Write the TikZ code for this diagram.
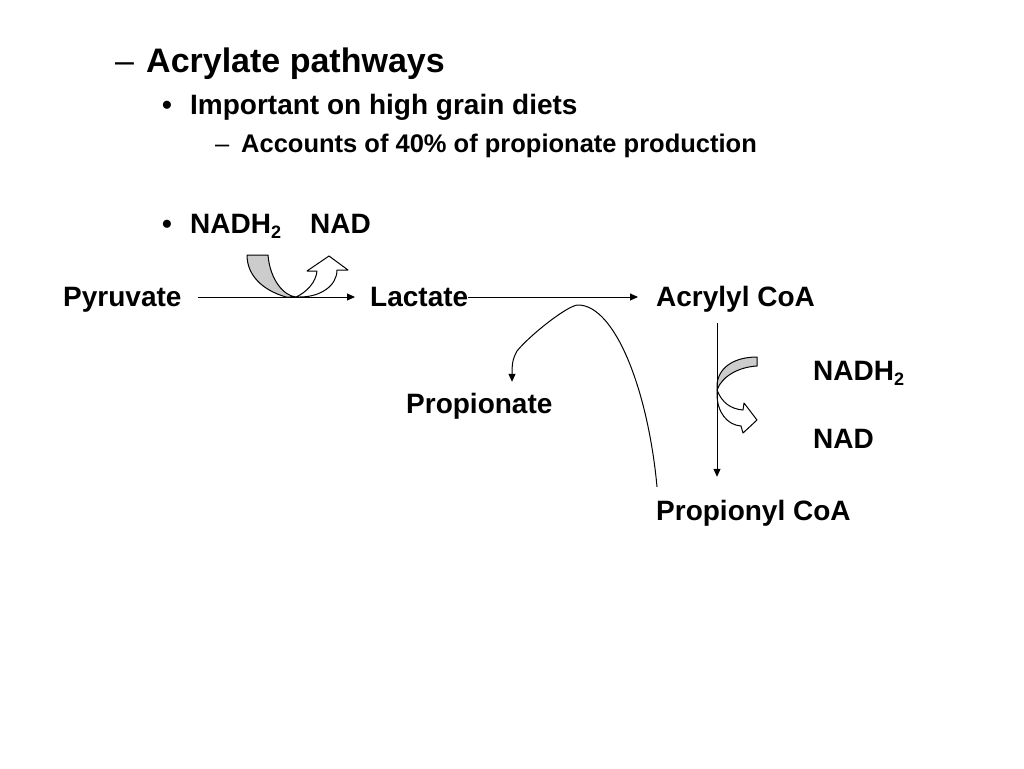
\documentclass[tikz,border=0pt]{standalone}
\usepackage{fontspec}
\setmainfont{Liberation Sans}
\usetikzlibrary{arrows.meta}
\newcommand{\subtwo}{\raisebox{-5pt}{\fontsize{18}{20}\selectfont 2}}
\tikzset{
  lbl/.style={font=\bfseries\fontsize{28}{32}\selectfont, inner sep=0pt, anchor=base west},
  mol/.style={lbl, text height=20pt, text depth=2pt},
  arr/.style={line width=1pt, -{Triangle[length=8pt,width=7pt]}},
  band/.style={draw, line width=1pt, line join=round},
}
\begin{document}
\begin{tikzpicture}[x=1pt, y=-1pt]
  \useasboundingbox[fill=white] (0,0) rectangle (1024,768);
  % list text
  \node (d1) [lbl, font=\mdseries\fontsize{34}{38}\selectfont] at (115,72) {--};
  \node (t1) [lbl, font=\bfseries\fontsize{34}{38}\selectfont] at (146,72) {Acrylate pathways};
  \node (b1) [lbl] at (162,114) {\textbullet};
  \node (t2) [lbl] at (190,114) {Important on high grain diets};
  \node (d2) [lbl, font=\mdseries\fontsize{25.5}{29}\selectfont] at (215,152) {--};
  \node (t3) [lbl, font=\bfseries\fontsize{25.5}{29}\selectfont] at (241,152) {Accounts of 40\% of propionate production};
  \node (b2) [lbl] at (162,233) {\textbullet};
  \node (nadh1) [lbl] at (190,233) {NADH\subtwo};
  \node (nad1) [lbl] at (310,233) {NAD};
  % pathway
  \node (pyr) [mol] at (63,306) {Pyruvate};
  \node (lac) [mol] at (370,306) {Lactate};
  \node (acr) [mol] at (656,306) {Acrylyl CoA};
  \node (prop) [mol] at (406,413) {Propionate};
  \node (pcoa) [mol] at (656,520) {Propionyl CoA};
  \node (nadh2) [mol] at (813,380) {NADH\subtwo};
  \node (nad2) [mol] at (813,448) {NAD};
  % cofactor arrows
  \filldraw[band, fill=gray!40] (247,255) -- (268,255) .. controls (270,280) and (284,296) .. (296,297)
    -- (286,297) .. controls (262,290) and (247,275) .. (247,255) -- cycle;
  \filldraw[band, fill=white] (296,297) .. controls (307,292) and (316,282) .. (317,271) -- (307,271)
    -- (329,256) -- (348,270) -- (337,270) .. controls (337,286) and (320,297) .. (300,297) -- cycle;
  \filldraw[band, fill=gray!40] (757,357) -- (757,366) .. controls (739,367) and (722,376) .. (717,390)
    -- (717,384) .. controls (719,366) and (736,357) .. (757,357) -- cycle;
  \filldraw[band, fill=white] (717,390) .. controls (722,403) and (731,409) .. (743,410) -- (744,403)
    -- (757,420) -- (743,433) -- (741,426) .. controls (727,425) and (717,412) .. (717,394) -- cycle;
  % connectors
  \coordinate (peak) at (578,305);
  \coordinate (bend) at (517,351);
  \draw[arr, shorten <=16pt, shorten >=15pt] (pyr.east) -- (lac.west);
  \draw[arr, shorten >=18pt] (lac.east) -- (acr.west);
  \draw[arr, shorten <=15pt, shorten >=23pt] ([xshift=61pt]acr.south west) -- ([xshift=61pt]pcoa.north west);
  \draw[arr] ([xshift=1pt,yshift=13pt]pcoa.north west) .. controls (648,390) and (615,305) .. (peak)
    .. controls (568,305) and (530,335) .. (bend) .. controls (512,360) and (512,366) .. ([xshift=106pt,yshift=11pt]prop.north west);
\end{tikzpicture}
\end{document}
